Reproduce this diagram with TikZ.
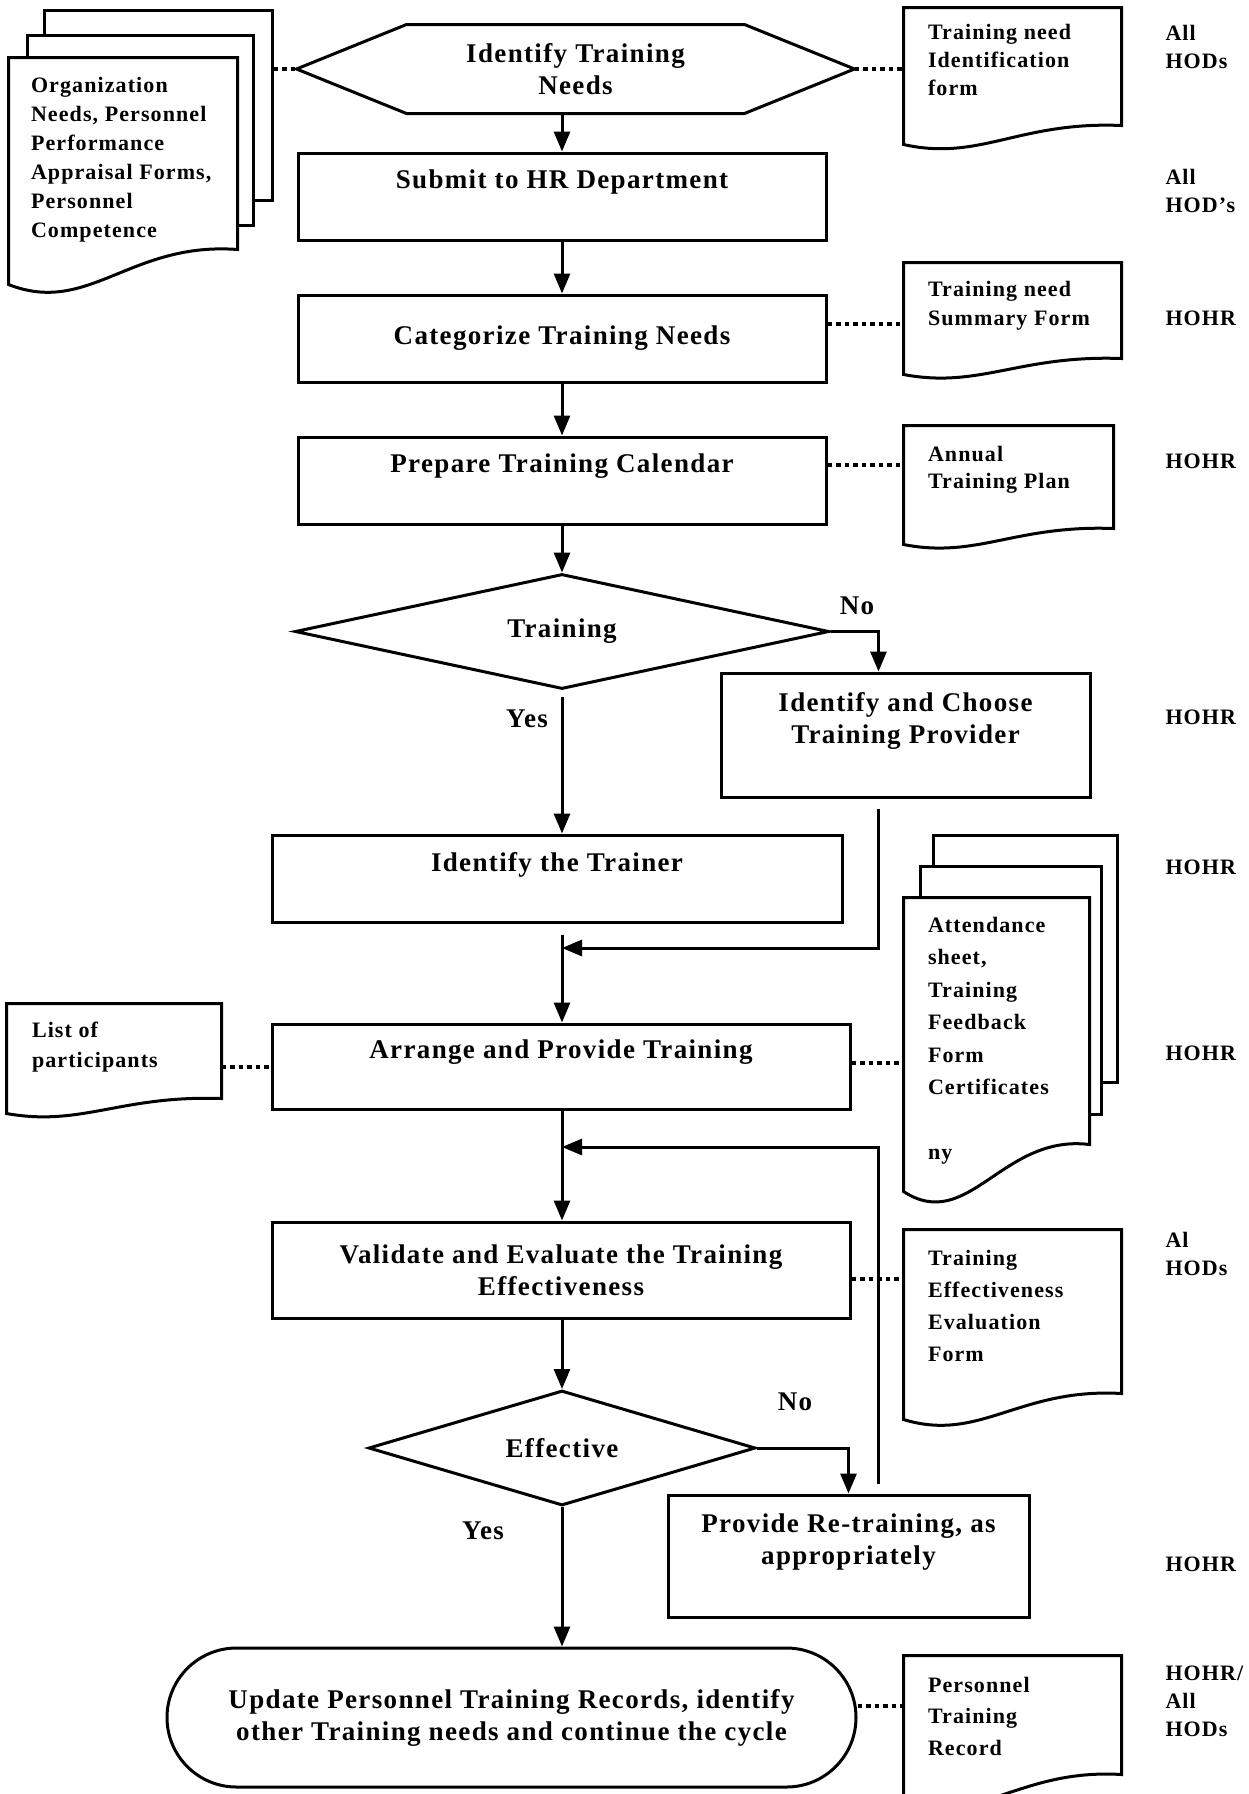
\documentclass[tikz,border=0pt]{standalone}
\usepackage{fontspec}
\setmainfont{Liberation Serif}[LetterSpace=5]
\usetikzlibrary{positioning,shapes.geometric,shapes.misc,arrows.meta,calc}

% text sitting in the upper half of a box
\newcommand\lift[1]{\raisebox{14pt}[\height][\depth]{#1}}
% outline of a document page, #2 = rise of its right corner
\newcommand\docshape[2]{%
  \draw[docline] let \p1=(#1.south west), \p2=(#1.north east), \n1={\x2-\x1} in
    (\p1) -- (\x1,\y2) -- (\p2) -- (\x2,\y1+#2pt)
    .. controls (\x1+0.53*\n1,\y1+1.23*#2pt) and (\x1+0.35*\n1,\y1-0.9*#2pt) .. (\p1) -- cycle;}

\begin{document}
\begin{tikzpicture}[
			x=1pt, y=-1pt,
			line width=3pt,
			font=\bfseries\fontsize{27}{32}\selectfont,
			procbox/.style = {draw, rectangle, align=center, inner sep=0pt},
			decision/.style = {draw, diamond, aspect=5, inner sep=0pt},
			terminal/.style = {draw, rounded rectangle, align=center, inner sep=0pt},
			pagebox/.style = {draw, fill=white, inner sep=0pt},
			docpage/.style = {inner sep=0pt},
			docline/.style = {fill=white},
			doctext/.style = {inner sep=0pt, align=left, font=\bfseries\fontsize{22}{#1}\selectfont},
			doctext/.default = 30,
			owner/.style = {anchor=west, inner sep=0pt, align=left, font=\bfseries\fontsize{22}{28}\selectfont},
			arrow/.style = {-{Triangle[length=20pt,width=16pt]}},
			link/.style = {line width=4pt, dash pattern=on 4.5pt off 4pt}
		]
		\path[use as bounding box, fill=white] (0,0) rectangle (1249,1794);
		% Main column.
		\node[minimum width=555, minimum height=86, inner sep=0pt, align=center] (needs) at (575.5,69) {Identify Training\\Needs};
		\draw (needs.west) -- ([xshift=110pt]needs.north west) -- ([xshift=-110pt]needs.north east) -- (needs.east)
			-- ([xshift=-110pt]needs.south east) -- ([xshift=110pt]needs.south west) -- cycle;
		\node[procbox, minimum width=528, minimum height=87] (submit) at (562,196.5) {\lift{Submit to HR Department}};
		\node[procbox, minimum width=528, minimum height=87] (categ) at (562,338.5) {Categorize Training Needs};
		\node[procbox, minimum width=528, minimum height=87] (calendar) at (562,480.5) {\lift{Prepare Training Calendar}};
		\node[decision, minimum width=534, minimum height=115] (train) at (562,631.5) {Training};
		\node[procbox, minimum width=369, minimum height=124] (provider) at (905.5,735) {\lift{Identify and Choose}\\\lift{Training Provider}};
		\node[procbox, minimum width=570, minimum height=87] (trainer) at (557,878.5) {\lift{Identify the Trainer}};
		\node[procbox, minimum width=578, minimum height=85] (arrange) at (561,1066.5) {\lift{Arrange and Provide Training}};
		\node[procbox, minimum width=578, minimum height=96] (validate) at (561,1270) {Validate and Evaluate the Training\\Effectiveness};
		\node[decision, minimum width=387, minimum height=115] (effective) at (562,1448) {Effective};
		\node[procbox, minimum width=361, minimum height=122] (retrain) at (848.5,1556) {\lift{Provide Re-training, as}\\\lift{appropriately}};
		\node[terminal, minimum width=689, minimum height=139] (update) at (511.5,1717.5) {Update Personnel Training Records, identify\\other Training needs and continue the cycle};
		\node (no1) at (857,606) {No};
		\node (yes1) at (527,719) {Yes};
		\node (no2) at (795,1402) {No};
		\node (yes2) at (483,1531) {Yes};
		\coordinate (j1) at (562,948);
		\coordinate (j2) at (562,1147);
		% Draw the flow.
		\draw[arrow] (needs.south -| submit.north) -- (submit.north);
		\draw[arrow] (submit) -- (categ);
		\draw[arrow] (categ) -- (calendar);
		\draw[arrow] (calendar) -- (train);
		\draw[arrow, shorten <=6pt] (train.south) -- (train.south |- trainer.north);
		\draw[arrow] (train.east) -| ([xshift=-27pt]provider.north);
		\draw[arrow, shorten <=10pt] ([xshift=-27pt]provider.south) |- (j1);
		\draw[arrow, shorten <=11pt] (trainer.south -| j1) -- (j1 |- arrange.north);
		\draw[arrow] (arrange.south -| j2) -- (j2 |- validate.north);
		\draw[arrow, shorten <=10pt] ([xshift=30pt]retrain.north) |- (j2);
		\draw[arrow] (validate.south -| effective.north) -- (effective.north);
		\draw[arrow] (effective.east) -| (retrain.north);
		\draw[arrow] (effective.south) -- (effective.south |- update.north);
		% Documents on the left.
		\node[pagebox, minimum width=228, minimum height=190] (orgback) at (158,105) {};
		\node[pagebox, minimum width=226, minimum height=190] (orgmid) at (140,130) {};
		\node[docpage, minimum width=226, minimum height=224] (orgdoc) at (123,171) {};
		\docshape{orgdoc}{35}
		\node[doctext=29, below right=18pt and 21pt of orgdoc.north west] (orgtext) {Organization\\Needs, Personnel\\Performance\\Appraisal Forms,\\Personnel\\Competence};
		\node[docpage, minimum width=212, minimum height=107] (listdoc) at (114,1058.5) {};
		\docshape{listdoc}{15}
		\node[doctext, below right=17pt and 24pt of listdoc.north west] (listtext) {List of\\participants};
		% Documents on the right.
		\node[docpage, minimum width=215, minimum height=134] (idform) at (1012.5,76) {};
		\docshape{idform}{19}
		\node[doctext=28, below right=15pt and 23pt of idform.north west] (idtext) {Training need\\Identification\\form};
		\node[docpage, minimum width=215, minimum height=109] (sumform) at (1012.5,318.5) {};
		\docshape{sumform}{16}
		\node[doctext=29, below right=17pt and 23pt of sumform.north west] (sumtext) {Training need\\Summary Form};
		\node[docpage, minimum width=207, minimum height=116] (plan) at (1008.5,485) {};
		\docshape{plan}{16}
		\node[doctext=27, below right=19pt and 23pt of plan.north west] (plantext) {Annual\\Training Plan};
		\node[pagebox, minimum width=184, minimum height=247] (attback) at (1025,958.5) {};
		\node[pagebox, minimum width=181, minimum height=248] (attmid) at (1010.5,990) {};
		\node[docpage, minimum width=183, minimum height=291] (attfront) at (996.5,1044.5) {};
		\docshape{attfront}{47}
		\node[doctext=32.5, below right=18pt and 23pt of attfront.north west] (atttext) {Attendance\\sheet,\\Training\\Feedback\\Form\\Certificates\\[32pt]ny};
		\node[docpage, minimum width=215, minimum height=187] (evalform) at (1012.5,1324.5) {};
		\docshape{evalform}{26}
		\node[doctext=32, below right=19pt and 23pt of evalform.north west] (evaltext) {Training\\Effectiveness\\Evaluation\\Form};
		\node[docpage, minimum width=215, minimum height=143] (record) at (1012.5,1728.5) {};
		\docshape{record}{27}
		\node[doctext=31.5, below right=20pt and 23pt of record.north west] (recordtext) {Personnel\\Training\\Record};
		% Draw the dotted links.
		\draw[link] (orgback.east |- needs.west) -- (needs.west);
		\draw[link] (needs.east) -- (needs.east -| idform.west);
		\draw[link] ([yshift=15pt]categ.east) -- ([yshift=15pt]categ.east -| sumform.west);
		\draw[link] ([yshift=16pt]calendar.east) -- ([yshift=16pt]calendar.east -| plan.west);
		\draw[link] (listdoc.east |- arrange.west) -- (arrange.west);
		\draw[link] ([yshift=4pt]arrange.east) -- ([yshift=4pt]arrange.east -| attfront.west);
		\draw[link] ([yshift=-9pt]validate.east) -- ([yshift=-9pt]validate.east -| evalform.west);
		\draw[link] ([yshift=12pt]update.east) -- ([yshift=12pt]update.east -| record.west);
		% Responsible people.
		\node[owner] (own1) at (1164,46.5) {All\\HODs};
		\node[owner] (own2) at (1164,191) {All\\HOD's};
		\node[owner] (own3) at (1164,318) {HOHR};
		\node[owner] (own4) at (1164,461) {HOHR};
		\node[owner] (own5) at (1164,717) {HOHR};
		\node[owner] (own6) at (1164,867) {HOHR};
		\node[owner] (own7) at (1164,1053) {HOHR};
		\node[owner] (own8) at (1164,1253.5) {Al\\HODs};
		\node[owner] (own9) at (1164,1564) {HOHR};
		\node[owner] (own10) at (1164,1701) {HOHR/\\All\\HODs};
	\end{tikzpicture}
\end{document}
